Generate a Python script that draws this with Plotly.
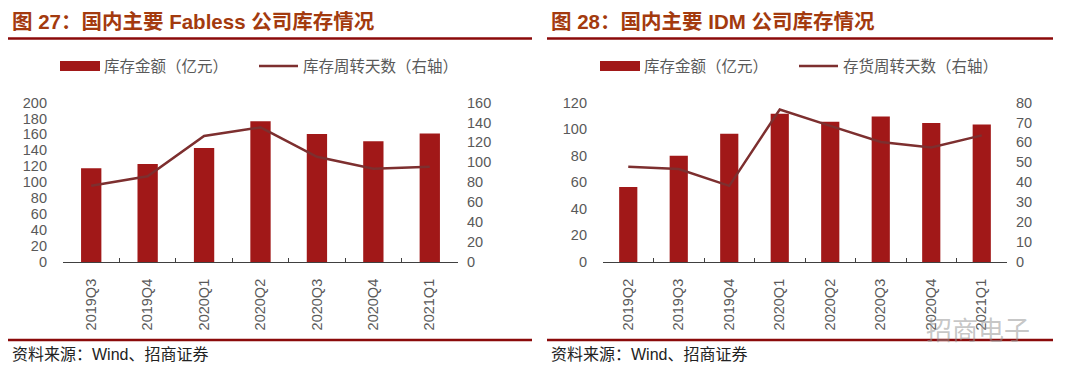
import plotly.graph_objects as go

W, H = 1080, 378

# ---------------- data ----------------
fab_quarters = ["2019Q3", "2019Q4", "2020Q1", "2020Q2", "2020Q3", "2020Q4", "2021Q1"]
fab_inventory = [117.5, 123, 143, 176.5, 160.5, 151.5, 161]        # 亿元 (left axis)
fab_days = [76.5, 86, 126.5, 135, 105.5, 93.5, 95.5]                # 周转天数 (right axis)

idm_quarters = ["2019Q2", "2019Q3", "2019Q4", "2020Q1", "2020Q2", "2020Q3", "2020Q4", "2021Q1"]
idm_inventory = [56.5, 80, 96.5, 111.5, 105.5, 109.5, 104.5, 103.5]  # 亿元 (left axis)
idm_days = [47.8, 46.6, 38.2, 76.5, 68.3, 60.2, 57.4, 63.5]          # 周转天数 (right axis)

titles = ["图 27：国内主要 Fabless 公司库存情况", "图 28：国内主要 IDM 公司库存情况"]
bar_names = ["库存金额（亿元）", "库存金额（亿元）"]
line_names = ["库存周转天数（右轴）", "存货周转天数（右轴）"]
source_text = "资料来源：Wind、招商证券"

# ---------------- style ----------------
BAR = "#A11818"
LINE = "#7D2F2F"
RULE = "#8B0A0A"
TITLE_C = "#A33A0E"
TICK_C = "#595959"
NUM_FONT = "Liberation Sans, Arial, sans-serif"
CJK_FONT = "Liberation Sans, Noto Sans CJK SC, sans-serif"


def px(x):
    return x / W


def py(y):
    return 1 - y / H


fig = go.Figure()

fig.add_trace(go.Bar(x=fab_quarters, y=fab_inventory, marker_color=BAR, width=0.36,
                     xaxis="x", yaxis="y", name=bar_names[0], showlegend=False))
fig.add_trace(go.Scatter(x=fab_quarters, y=fab_days, mode="lines",
                         line=dict(color=LINE, width=2.5),
                         xaxis="x", yaxis="y2", name=line_names[0], showlegend=False))
fig.add_trace(go.Bar(x=idm_quarters, y=idm_inventory, marker_color=BAR, width=0.36,
                     xaxis="x2", yaxis="y3", name=bar_names[1], showlegend=False))
fig.add_trace(go.Scatter(x=idm_quarters, y=idm_days, mode="lines",
                         line=dict(color=LINE, width=2.5),
                         xaxis="x2", yaxis="y4", name=line_names[1], showlegend=False))

y_dom = [py(262), py(102.5)]
xa = dict(type="category", showline=True, linecolor="#404040", linewidth=1,
          ticks="inside", ticklen=4, tickcolor="#404040", tickson="boundaries",
          tickangle=-90, tickfont=dict(family=NUM_FONT, size=14.5, color=TICK_C),
          ticklabelstandoff=10,
          showgrid=False, zeroline=False, fixedrange=True, automargin=False)
ya = dict(showline=False, showgrid=False, zeroline=False, ticks="",
          tickfont=dict(family=NUM_FONT, size=14.5, color=TICK_C), fixedrange=True,
          automargin=False)

fig.update_layout(
    template="none",
    width=W, height=H,
    margin=dict(l=0, r=0, t=0, b=0, pad=0),
    paper_bgcolor="white", plot_bgcolor="white",
    showlegend=False,
    xaxis=dict(xa, domain=[px(63), px(458)], anchor="y"),
    yaxis=dict(ya, domain=y_dom, range=[0, 200], dtick=20, anchor="x", ticklabelstandoff=15),
    yaxis2=dict(ya, range=[0, 160], dtick=20, overlaying="y", side="right", anchor="x",
                ticklabelstandoff=8),
    xaxis2=dict(xa, domain=[px(603), px(1007)], anchor="y3"),
    yaxis3=dict(ya, domain=y_dom, range=[0, 120], dtick=20, anchor="x2", ticklabelstandoff=15),
    yaxis4=dict(ya, range=[0, 80], dtick=10, overlaying="y3", side="right", anchor="x2",
                ticklabelstandoff=8),
)

shapes = []
annotations = []
panels = [
    dict(x0=8, x1=532, title=titles[0], leg_bar=60, leg_line=259, bar_name=bar_names[0], line_name=line_names[0]),
    dict(x0=547, x1=1053, title=titles[1], leg_bar=600, leg_line=799, bar_name=bar_names[1], line_name=line_names[1]),
]
for p in panels:
    # title and rules
    annotations.append(dict(x=px(p["x0"] + 2), y=py(22), xref="paper", yref="paper",
                            xanchor="left", yanchor="middle", showarrow=False,
                            text="<b>" + p["title"] + "</b>",
                            font=dict(family=CJK_FONT, size=20.5, color=TITLE_C)))
    shapes.append(dict(type="line", xref="paper", yref="paper", x0=px(p["x0"]), x1=px(p["x1"]),
                       y0=py(38.5), y1=py(38.5), line=dict(color=RULE, width=2.5)))
    shapes.append(dict(type="line", xref="paper", yref="paper", x0=px(p["x0"]), x1=px(p["x1"]),
                       y0=py(340), y1=py(340), line=dict(color=RULE, width=2.5)))
    annotations.append(dict(x=px(p["x0"] + 2), y=py(354), xref="paper", yref="paper",
                            xanchor="left", yanchor="middle", showarrow=False,
                            text=source_text,
                            font=dict(family=CJK_FONT, size=16, color="#222222")))
    # legend
    shapes.append(dict(type="rect", xref="paper", yref="paper",
                       x0=px(p["leg_bar"]), x1=px(p["leg_bar"] + 40), y0=py(71), y1=py(61),
                       fillcolor=BAR, line=dict(width=0)))
    annotations.append(dict(x=px(p["leg_bar"] + 42), y=py(66), xref="paper", yref="paper",
                            xanchor="left", yanchor="middle", showarrow=False,
                            text=p["bar_name"],
                            font=dict(family=CJK_FONT, size=15.5, color=TICK_C)))
    shapes.append(dict(type="line", xref="paper", yref="paper",
                       x0=px(p["leg_line"]), x1=px(p["leg_line"] + 39), y0=py(66), y1=py(66),
                       line=dict(color=LINE, width=2.5)))
    annotations.append(dict(x=px(p["leg_line"] + 42), y=py(66), xref="paper", yref="paper",
                            xanchor="left", yanchor="middle", showarrow=False,
                            text=p["line_name"],
                            font=dict(family=CJK_FONT, size=15.5, color=TICK_C)))

# watermark
annotations.append(dict(x=px(1032), y=py(328), xref="paper", yref="paper",
                        xanchor="right", yanchor="middle", showarrow=False,
                        text="招商电子",
                        font=dict(family="Noto Sans CJK SC", size=26, color="rgba(150,150,150,0.55)")))

fig.update_layout(shapes=shapes, annotations=annotations)

fig.write_html("out.html",
               config={"displayModeBar": False},
               post_script="document.body.style.margin='0';document.body.style.overflow='hidden';")
